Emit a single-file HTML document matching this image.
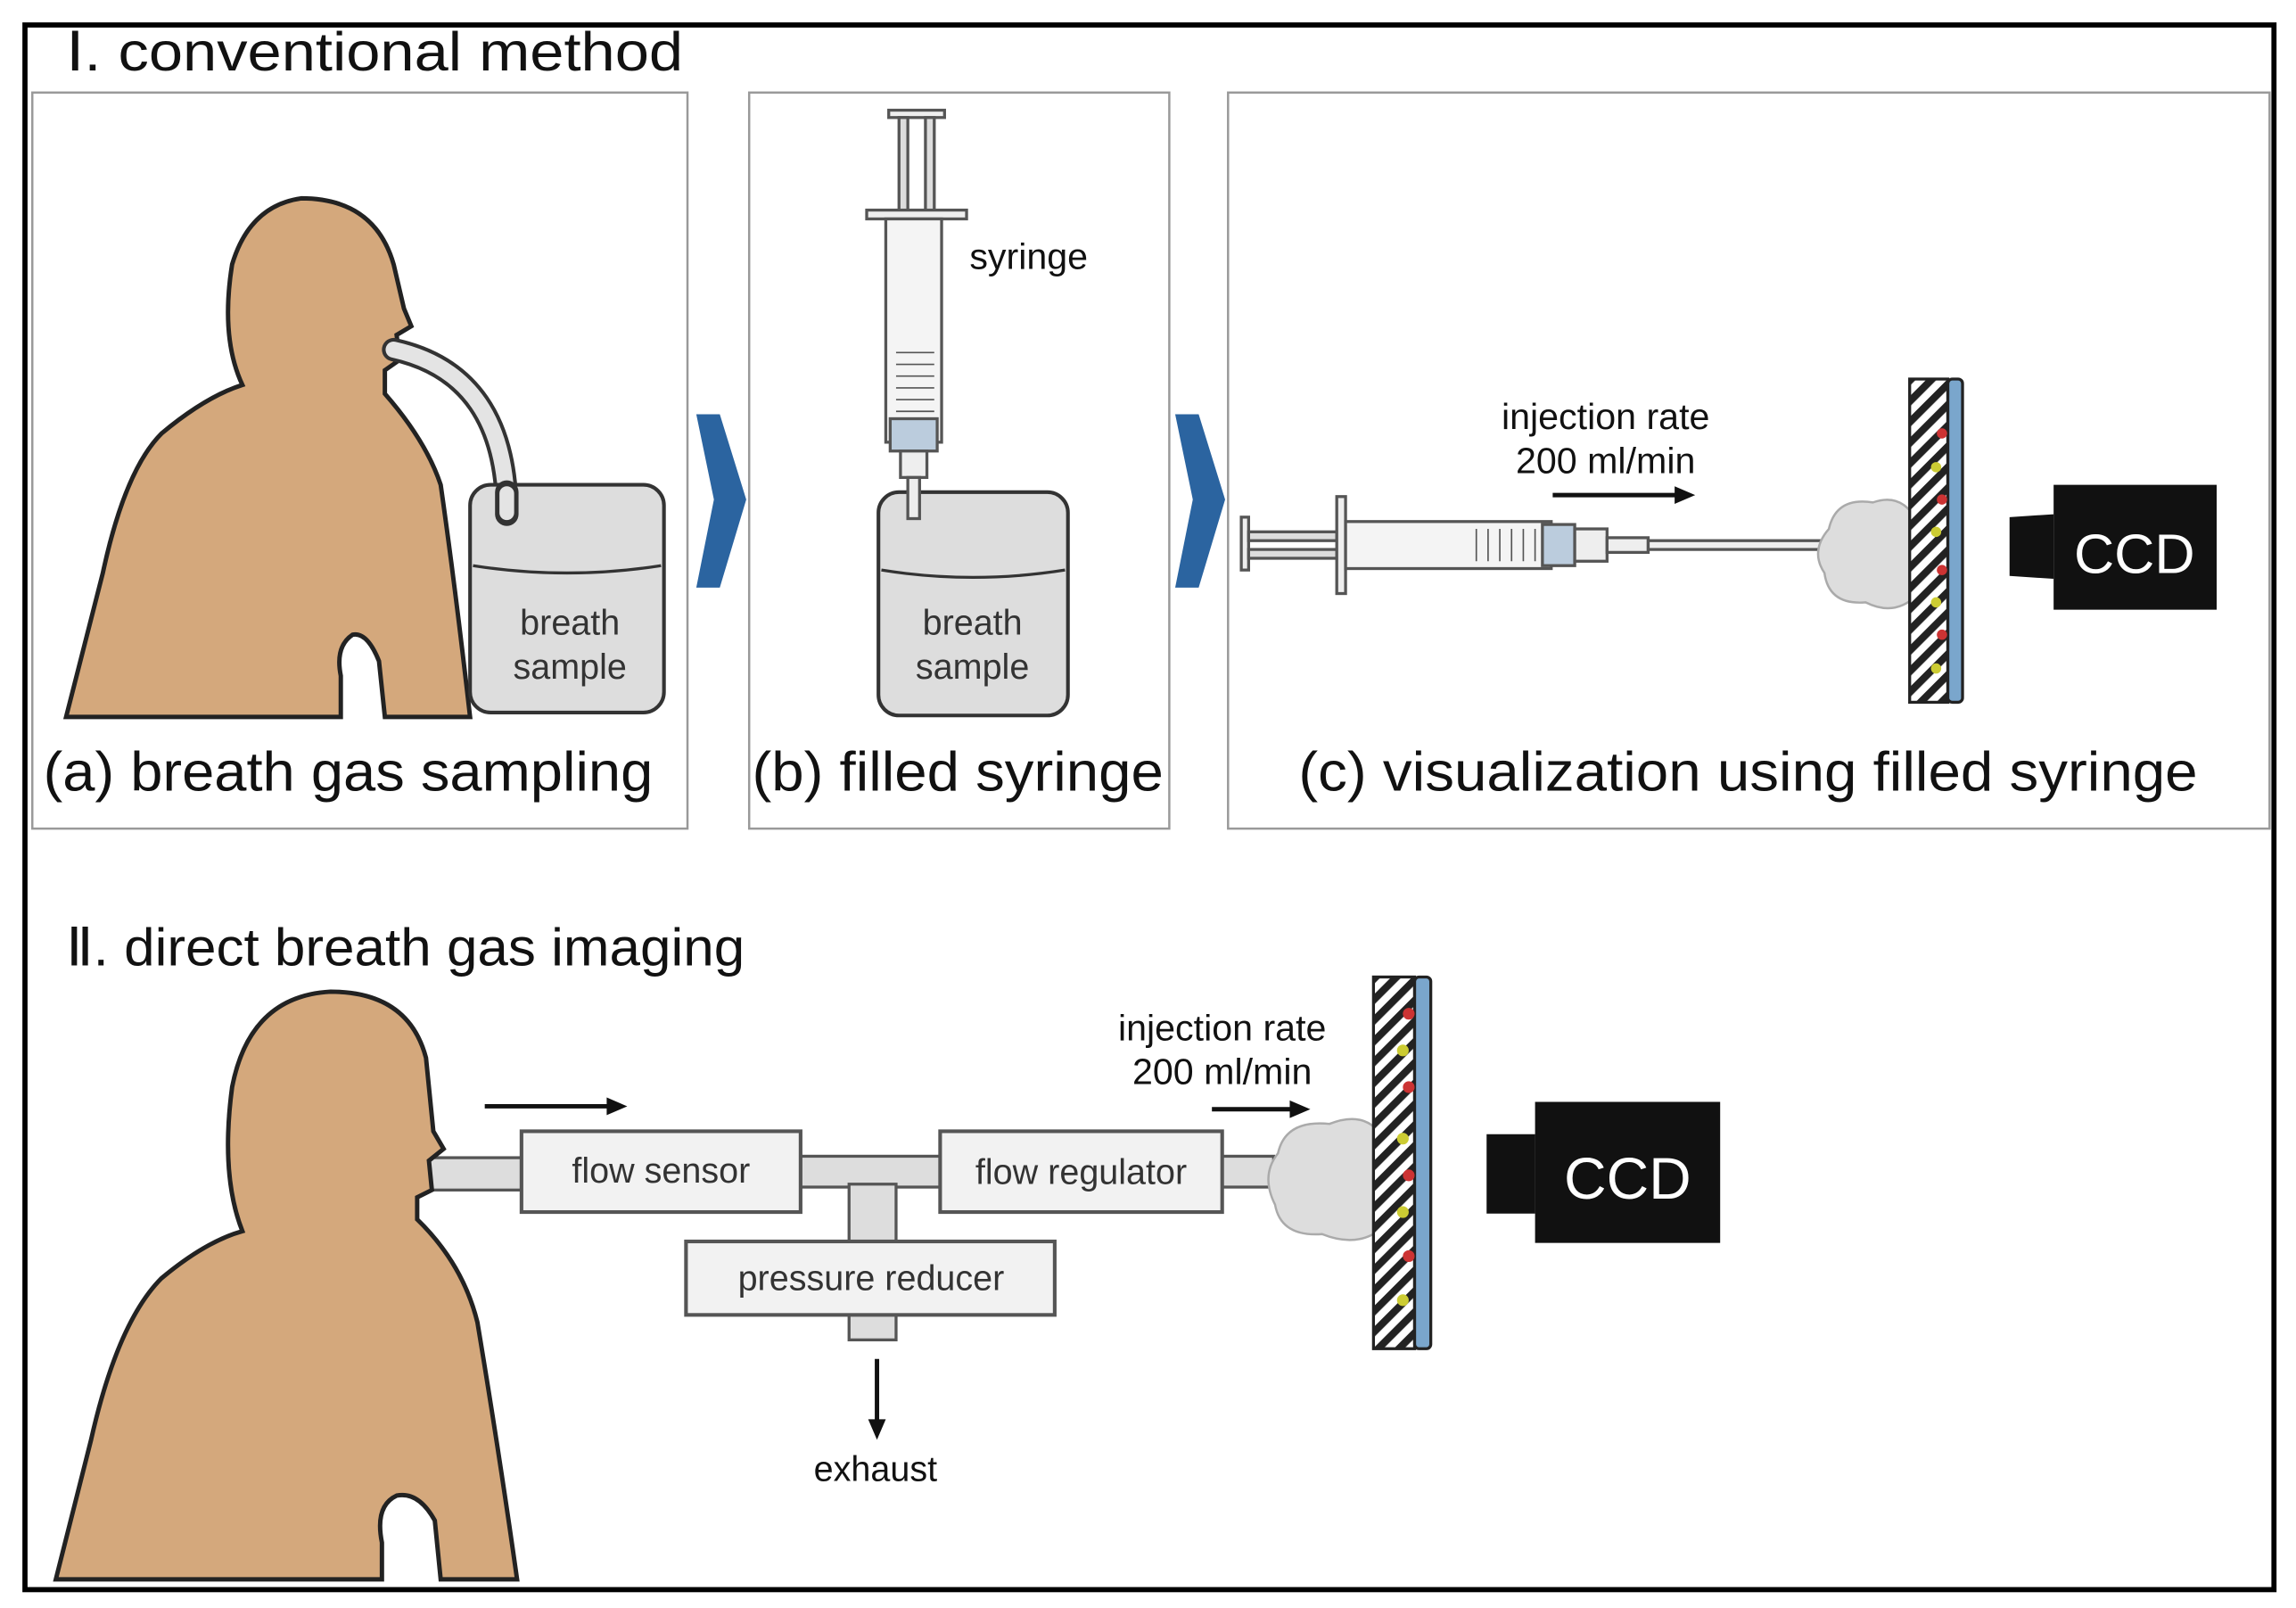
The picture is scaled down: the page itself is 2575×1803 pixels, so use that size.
<!DOCTYPE html>
<html><head><meta charset="utf-8"><style>html,body{margin:0;padding:0;background:#fff}svg{display:block}</style></head>
<body>
<svg width="2575" height="1803" viewBox="0 0 1563 1094.5" preserveAspectRatio="none" xmlns="http://www.w3.org/2000/svg" font-family="Liberation Sans, sans-serif">
<defs>
<pattern id="h" width="10" height="10" patternUnits="userSpaceOnUse" patternTransform="rotate(45)">
<rect width="10" height="10" fill="#fff"/><rect width="5" height="10" fill="#222"/></pattern>
</defs>
<rect x="0" y="0" width="1563" height="1094.5" fill="#fff"/>
<rect x="17" y="17" width="1531" height="1065" fill="none" stroke="#000" stroke-width="3.5"/>
<text x="45" y="48" font-size="37" fill="#111" textLength="420" lengthAdjust="spacingAndGlyphs">Ⅰ. conventional method</text>
<g fill="none" stroke="#999" stroke-width="1.5">
<rect x="22" y="63" width="446" height="501"/>
<rect x="510" y="63" width="286" height="501"/>
<rect x="836" y="63" width="709" height="501"/>
</g>
<path d="M474 282 L490 282 L508 340 L490 400 L474 400 L486 340 Z" fill="#2b64a0"/>
<path d="M800 282 L816 282 L834 340 L816 400 L800 400 L812 340 Z" fill="#2b64a0"/>

<!-- person a -->
<path d="M45 488 L70 390 Q85 320 110 295 Q140 270 165 262 Q150 230 158 180 Q170 140 205 135 Q255 135 268 180 L275 210 L280 222 L270 228 L272 245 L262 252 L262 268 Q290 300 300 330 Q310 400 320 488 L262 488 L258 450 Q250 430 240 432 Q228 440 232 460 L232 488 Z" fill="#d4a87c" stroke="#222" stroke-width="3"/>
<path d="M268 238 Q345 255 345 350" fill="none" stroke="#333" stroke-width="16" stroke-linecap="round"/>
<path d="M268 238 Q345 255 345 350" fill="none" stroke="#e4e4e4" stroke-width="11" stroke-linecap="round"/>
<rect x="320" y="330" width="132" height="155" rx="14" fill="#ddd" stroke="#333" stroke-width="2.5"/>
<path d="M322 385 Q386 395 450 385" fill="none" stroke="#333" stroke-width="2"/>
<path d="M345 335 L345 350" stroke="#333" stroke-width="16" stroke-linecap="round"/>
<path d="M345 336 L345 349" stroke="#e4e4e4" stroke-width="10" stroke-linecap="round"/>
<text x="388" y="432" font-size="24" text-anchor="middle" fill="#333">breath</text>
<text x="388" y="462" font-size="24" text-anchor="middle" fill="#333">sample</text>
<text x="237" y="538" font-size="38" text-anchor="middle" fill="#111" textLength="415" lengthAdjust="spacingAndGlyphs">(a) breath gas sampling</text>

<!-- panel b -->
<rect x="598" y="335" width="129" height="152" rx="14" fill="#ddd" stroke="#333" stroke-width="2.5"/>
<path d="M600 388 Q662 398 725 388" fill="none" stroke="#333" stroke-width="2"/>
<g stroke="#555" stroke-width="2" fill="#eee">
<rect x="605" y="75" width="38" height="5"/>
<rect x="612" y="80" width="6" height="65" fill="#ddd"/><rect x="630" y="80" width="6" height="65" fill="#ddd"/>
<rect x="590" y="143" width="68" height="6"/>
<rect x="603" y="149" width="38" height="152" fill="#f4f4f4"/>
<rect x="606" y="285" width="32" height="22" fill="#bcd"/>
<rect x="613" y="307" width="18" height="18"/>
<rect x="618" y="325" width="8" height="28"/>
</g>
<g stroke="#555" stroke-width="1"><line x1="610" y1="240" x2="636" y2="240"/><line x1="610" y1="248" x2="636" y2="248"/><line x1="610" y1="256" x2="636" y2="256"/><line x1="610" y1="264" x2="636" y2="264"/><line x1="610" y1="272" x2="636" y2="272"/><line x1="610" y1="280" x2="636" y2="280"/></g>
<text x="660" y="183" font-size="25" fill="#111">syringe</text>
<text x="662" y="432" font-size="24" text-anchor="middle" fill="#333">breath</text>
<text x="662" y="462" font-size="24" text-anchor="middle" fill="#333">sample</text>
<text x="652" y="538" font-size="38" text-anchor="middle" fill="#111" textLength="280" lengthAdjust="spacingAndGlyphs">(b) filled syringe</text>

<!-- panel c -->
<g stroke="#555" stroke-width="2" fill="#eee">
<rect x="845" y="352" width="5" height="36"/>
<rect x="850" y="362" width="60" height="6" fill="#ddd"/><rect x="850" y="374" width="60" height="6" fill="#ddd"/>
<rect x="910" y="338" width="6" height="66"/>
<rect x="916" y="355" width="140" height="32" fill="#f4f4f4"/>
<rect x="1050" y="357" width="22" height="28" fill="#bcd"/>
<rect x="1072" y="360" width="22" height="22"/>
<rect x="1094" y="366" width="28" height="10"/>
<rect x="1122" y="368" width="125" height="6"/>
</g>
<g stroke="#555" stroke-width="1"><line x1="1005" y1="360" x2="1005" y2="382"/><line x1="1013" y1="360" x2="1013" y2="382"/><line x1="1021" y1="360" x2="1021" y2="382"/><line x1="1029" y1="360" x2="1029" y2="382"/><line x1="1037" y1="360" x2="1037" y2="382"/><line x1="1045" y1="360" x2="1045" y2="382"/></g>
<path d="M1245 360 Q1250 338 1275 342 Q1295 335 1305 355 L1305 405 Q1290 420 1270 410 Q1245 412 1242 390 Q1232 375 1245 360 Z" fill="#ddd" stroke="#aaa" stroke-width="1.5"/>
<rect x="1300" y="258" width="26" height="220" fill="url(#h)" stroke="#222" stroke-width="2"/>
<rect x="1326" y="258" width="10" height="220" fill="#7aa6cc" stroke="#222" stroke-width="2" rx="3"/>
<g><circle cx="1322" cy="295" r="3.5" fill="#c33"/><circle cx="1318" cy="318" r="3.5" fill="#cc3"/><circle cx="1322" cy="340" r="3.5" fill="#c33"/><circle cx="1318" cy="362" r="3.5" fill="#cc3"/><circle cx="1322" cy="388" r="3.5" fill="#c33"/><circle cx="1318" cy="410" r="3.5" fill="#cc3"/><circle cx="1322" cy="432" r="3.5" fill="#c33"/><circle cx="1318" cy="455" r="3.5" fill="#cc3"/></g>
<rect x="1398" y="330" width="111" height="85" fill="#111"/>
<path d="M1398 350 L1368 352 L1368 392 L1398 394 Z" fill="#111"/>
<text x="1453" y="390" font-size="38" text-anchor="middle" fill="#fff">CCD</text>
<text x="1093" y="292" font-size="25" text-anchor="middle" fill="#111">injection rate</text>
<text x="1093" y="322" font-size="25" text-anchor="middle" fill="#111">200 ml/min</text>
<line x1="1057" y1="337" x2="1143" y2="337" stroke="#111" stroke-width="3"/>
<path d="M1154 337 L1140 331 L1140 343 Z" fill="#111"/>
<text x="1190" y="538" font-size="38" text-anchor="middle" fill="#111" textLength="612" lengthAdjust="spacingAndGlyphs">(c) visualization using filled syringe</text>

<!-- section II -->
<text x="45" y="657" font-size="36" fill="#111" textLength="462" lengthAdjust="spacingAndGlyphs">Ⅱ. direct breath gas imaging</text>
<rect x="290" y="788" width="66" height="22" fill="#ddd" stroke="#555" stroke-width="2"/>
<path d="M38 1075 L62 980 Q80 900 110 870 Q140 845 165 838 Q150 800 158 740 Q170 678 225 675 Q278 675 290 720 L295 770 L302 782 L292 790 L294 810 L284 815 L284 830 Q315 860 325 900 Q340 990 352 1075 L300 1075 L296 1035 Q285 1015 270 1018 Q255 1025 260 1050 L260 1075 Z" fill="#d4a87c" stroke="#222" stroke-width="3"/>
<g stroke="#555" stroke-width="2" fill="#ddd">
<rect x="545" y="787" width="96" height="21"/>
<rect x="578" y="806" width="32" height="40"/>
<rect x="578" y="894" width="32" height="18"/>
<rect x="832" y="787" width="35" height="21"/>
</g>
<g stroke="#555" stroke-width="2.5" fill="#f2f2f2">
<rect x="355" y="770" width="190" height="55"/>
<rect x="640" y="770" width="192" height="55"/>
<rect x="467" y="845" width="251" height="50"/>
</g>
<text x="450" y="805" font-size="24" text-anchor="middle" fill="#333">flow sensor</text>
<text x="736" y="806" font-size="24" text-anchor="middle" fill="#333">flow regulator</text>
<text x="593" y="878" font-size="24" text-anchor="middle" fill="#333">pressure reducer</text>
<line x1="597" y1="925" x2="597" y2="968" stroke="#111" stroke-width="3"/>
<path d="M597 980 L591 966 L603 966 Z" fill="#111"/>
<text x="596" y="1008" font-size="24" text-anchor="middle" fill="#111">exhaust</text>
<line x1="330" y1="753" x2="415" y2="753" stroke="#111" stroke-width="3"/>
<path d="M427 753 L413 747 L413 759 Z" fill="#111"/>
<text x="832" y="708" font-size="25" text-anchor="middle" fill="#111">injection rate</text>
<text x="832" y="738" font-size="25" text-anchor="middle" fill="#111">200 ml/min</text>
<line x1="825" y1="755" x2="880" y2="755" stroke="#111" stroke-width="3"/>
<path d="M892 755 L878 749 L878 761 Z" fill="#111"/>
<path d="M870 785 Q875 762 905 765 Q930 755 942 775 L942 835 Q925 850 900 840 Q872 842 868 820 Q858 800 870 785 Z" fill="#ddd" stroke="#aaa" stroke-width="1.5"/>
<rect x="935" y="665" width="28" height="253" fill="url(#h)" stroke="#222" stroke-width="2"/>
<rect x="963" y="665" width="11" height="253" fill="#7aa6cc" stroke="#222" stroke-width="2" rx="3"/>
<g><circle cx="959" cy="690" r="4" fill="#c33"/><circle cx="955" cy="715" r="4" fill="#cc3"/><circle cx="959" cy="740" r="4" fill="#c33"/><circle cx="955" cy="775" r="4" fill="#cc3"/><circle cx="959" cy="800" r="4" fill="#c33"/><circle cx="955" cy="825" r="4" fill="#cc3"/><circle cx="959" cy="855" r="4" fill="#c33"/><circle cx="955" cy="885" r="4" fill="#cc3"/></g>
<rect x="1045" y="750" width="126" height="96" fill="#111"/>
<path d="M1045 772 L1012 772 L1012 826 L1045 826 Z" fill="#111"/>
<text x="1108" y="816" font-size="40" text-anchor="middle" fill="#fff">CCD</text>
</svg>
</body></html>
